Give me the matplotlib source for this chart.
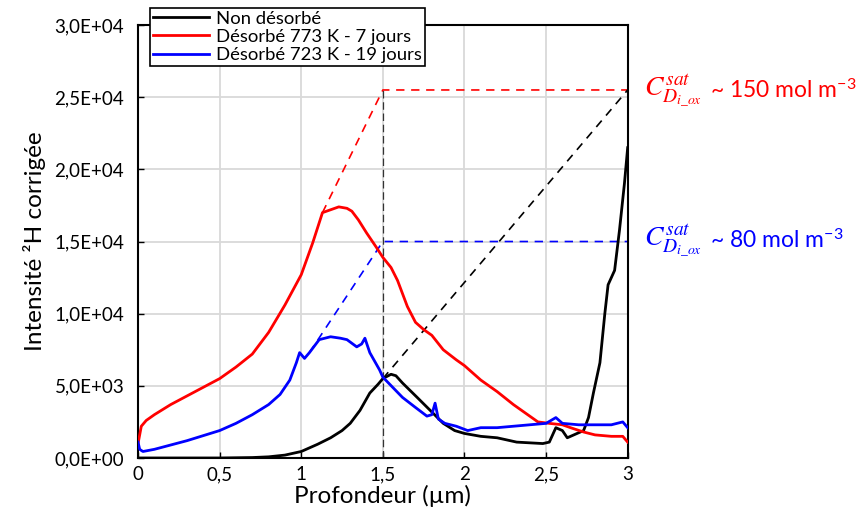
import matplotlib.pyplot as plt
from matplotlib.ticker import FuncFormatter, MultipleLocator

plt.rcParams['font.family'] = ['Lato', 'DejaVu Sans']
plt.rcParams['mathtext.fontset'] = 'stix'

# Non désorbé
x_black = [0, 0.5, 0.7, 0.8, 0.9, 1.0, 1.05, 1.1, 1.18, 1.25, 1.3, 1.36, 1.42, 1.47, 1.5,
           1.55, 1.58, 1.62, 1.71, 1.79, 1.87, 1.94, 2.0, 2.1, 2.2, 2.32, 2.4, 2.48, 2.52,
           2.56, 2.6, 2.63, 2.69, 2.73, 2.76, 2.79, 2.83, 2.86, 2.88, 2.92, 2.95, 2.98, 3.0]
y_black = [0, 0, 30, 80, 200, 450, 700, 950, 1400, 1900, 2400, 3300, 4500, 5100, 5500,
           5800, 5700, 5200, 4200, 3300, 2400, 1900, 1700, 1500, 1400, 1100, 1050, 1000, 1100,
           2100, 1900, 1400, 1700, 1900, 2800, 4500, 6600, 10000, 12000, 13000, 15800, 19000, 21500]

# Désorbé 773 K - 7 jours
x_red = [0, 0.02, 0.05, 0.1, 0.2, 0.3, 0.4, 0.5, 0.6, 0.7, 0.8, 0.9, 1.0, 1.07, 1.13, 1.18,
         1.23, 1.28, 1.31, 1.35, 1.4, 1.46, 1.5, 1.55, 1.59, 1.65, 1.7, 1.75, 1.8, 1.87, 1.95,
         2.0, 2.1, 2.2, 2.3, 2.4, 2.45, 2.52, 2.6, 2.65, 2.73, 2.8, 2.9, 2.97, 3.0]
y_red = [1000, 2200, 2600, 3000, 3700, 4300, 4900, 5500, 6300, 7200, 8700, 10600, 12700, 14900,
         17000, 17200, 17400, 17300, 17100, 16500, 15600, 14600, 13900, 13200, 12300, 10500,
         9400, 8900, 8500, 7500, 6800, 6400, 5400, 4600, 3700, 2900, 2500, 2400, 2300, 2100,
         1800, 1600, 1500, 1500, 1100]

# Désorbé 723 K - 19 jours
x_blue = [0, 0.01, 0.03, 0.1, 0.2, 0.3, 0.4, 0.5, 0.6, 0.7, 0.8, 0.87, 0.93, 0.97, 0.99, 1.02,
          1.05, 1.11, 1.18, 1.24, 1.28, 1.34, 1.37, 1.39, 1.42, 1.48, 1.5, 1.56, 1.62, 1.7,
          1.77, 1.8, 1.82, 1.84, 1.88, 1.95, 2.02, 2.1, 2.2, 2.3, 2.4, 2.5, 2.56, 2.6, 2.7,
          2.8, 2.9, 2.97, 3.0]
y_blue = [1100, 600, 450, 600, 900, 1200, 1550, 1900, 2400, 3000, 3700, 4400, 5400, 6600, 7300,
          6900, 7300, 8200, 8400, 8300, 8200, 7700, 7900, 8300, 7300, 6100, 5600, 4900, 4200,
          3500, 2900, 3000, 3800, 2700, 2400, 2200, 1900, 2100, 2100, 2200, 2300, 2400, 2800,
          2400, 2300, 2300, 2300, 2500, 2100]

# guide lines
red_guide_x = [1.13, 1.5, 3.0]
red_guide_y = [17000, 25500, 25500]
blue_guide_x = [1.05, 1.5, 3.0]
blue_guide_y = [7300, 15000, 15000]
black_guide_x = [1.5, 3.0]
black_guide_y = [5500, 25500]

fig = plt.figure(figsize=(8.59, 5.28), dpi=100)
ax = fig.add_axes([0.1607, 0.1326, 0.570, 0.820])

ax.plot(x_black, y_black, color='black', lw=2, label='Non désorbé', zorder=3)
ax.plot(x_red, y_red, color='#ff0000', lw=2, label='Désorbé 773 K - 7 jours', zorder=3)
ax.plot(x_blue, y_blue, color='#0000ff', lw=2, label='Désorbé 723 K - 19 jours', zorder=3)

ax.plot(red_guide_x, red_guide_y, color='#ff0000', lw=1.2, ls=(0, (5, 4)))
ax.plot(blue_guide_x, blue_guide_y, color='#0000ff', lw=1.2, ls=(0, (5, 4)))
ax.plot(black_guide_x, black_guide_y, color='black', lw=1.2, ls=(0, (5, 4)))
ax.plot([1.5, 1.5], [0, 25500], color='#333333', lw=0.9, ls=(0, (6, 3)))

ax.set_xlim(0, 3)
ax.set_ylim(0, 30000)
ax.xaxis.set_major_locator(MultipleLocator(0.5))
ax.yaxis.set_major_locator(MultipleLocator(5000))
ax.xaxis.set_major_formatter(FuncFormatter(lambda v, p: f'{v:g}'.replace('.', ',')))
ax.yaxis.set_major_formatter(FuncFormatter(lambda v, p: f'{v:.1E}'.replace('.', ',')))
ax.tick_params(direction='in', labelsize=13.5, length=4, width=1)
ax.tick_params(axis='y', pad=10)
ax.tick_params(axis='x', pad=6)
ax.grid(color='#d9d9d9', lw=1.3)
ax.set_axisbelow(True)
for s in ax.spines.values():
    s.set_linewidth(1.5)

ax.set_xlabel('Profondeur (µm)', fontsize=17.5, labelpad=1)
ax.set_ylabel('Intensité ²H corrigée', fontsize=17.5, labelpad=6)

leg = fig.legend(loc='upper left', bbox_to_anchor=(0.175, 0.985), fontsize=13.3,
                 frameon=True, fancybox=False, edgecolor='black', framealpha=1,
                 handlelength=3, borderpad=0.15, labelspacing=0.12, handletextpad=0.4,
                 borderaxespad=0)
leg.get_frame().set_linewidth(1.2)

# annotations on the right of the plot
fig.text(644 / 859, 1 - 92 / 528, r'$C_{D_{i\_ox}}^{sat}$', color='#ff0000',
         fontsize=20, va='center', ha='left')
fig.text(710 / 859, 1 - 90 / 528, r'~ 150 mol m$^{\mathregular{-3}}$', color='#ff0000',
         fontsize=16.5, va='center', ha='left')
fig.text(644 / 859, 1 - 242 / 528, r'$C_{D_{i\_ox}}^{sat}$', color='#0000ff',
         fontsize=20, va='center', ha='left')
fig.text(710 / 859, 1 - 240 / 528, r'~ 80 mol m$^{\mathregular{-3}}$', color='#0000ff',
         fontsize=16.5, va='center', ha='left')

fig.savefig('out.png', dpi=100)
